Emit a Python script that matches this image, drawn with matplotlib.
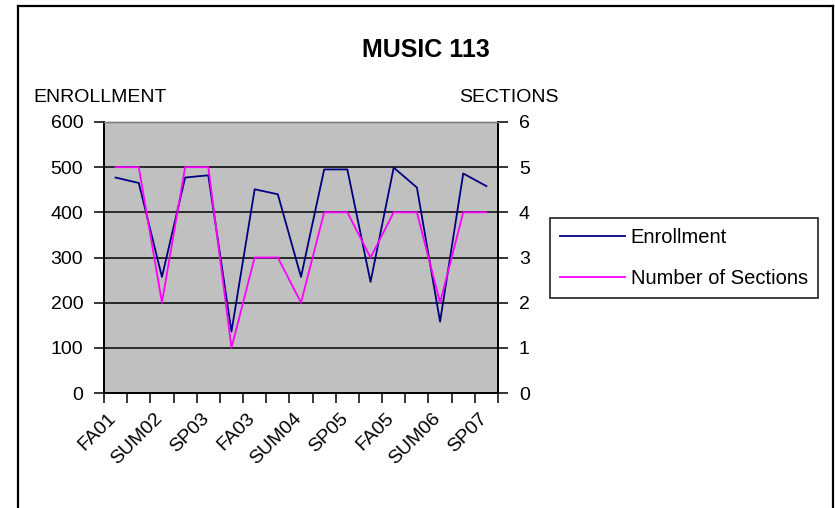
import matplotlib
matplotlib.use("Agg")
import matplotlib.pyplot as plt
import matplotlib.transforms as mtransforms
from matplotlib.lines import Line2D

# ============================================
# DATA
# ============================================
terms = ['FA01', 'SP02', 'SUM02', 'FA02', 'SP03', 'SUM03', 'FA03', 'SP04', 'SUM04',
         'FA04', 'SP05', 'SUM05', 'FA05', 'SP06', 'SUM06', 'FA06', 'SP07']
enrollment = [477, 465, 257, 477, 482, 136, 451, 440, 257,
              495, 495, 246, 499, 455, 158, 486, 458]
sections = [5, 5, 2, 5, 5, 1, 3, 3, 2, 4, 4, 3, 4, 4, 2, 4, 4]

# ============================================
# CONFIGURATION
# ============================================
W, H = 835, 508
FONT = 'Liberation Sans'
FS = 14
plt.rcParams['font.family'] = [FONT, 'DejaVu Sans']


def fx(px):
    return px / W


def fy(py):
    return 1 - py / H


fig = plt.figure(figsize=(W / 100, H / 100), dpi=100)
fig.patch.set_facecolor('white')

# plot area in pixel coordinates
left, right, top, bottom = 104, 498, 122, 393
ax = fig.add_axes([fx(left), fy(bottom), fx(right - left), (bottom - top) / H])
ax.set_facecolor('#c0c0c0')

x = list(range(len(terms)))
l1, = ax.plot(x, enrollment, color='#000080', linewidth=1.3, label='Enrollment', zorder=3)

ax.set_xlim(-0.5, len(terms) - 0.5)
ax.set_ylim(0, 600)
ax.set_yticks(range(0, 601, 100))
ax.yaxis.grid(True, color='black', linewidth=1.1)
ax.set_axisbelow(True)

# x ticks: marks between categories, labels on every second category
ax.set_xticks([i - 0.5 for i in range(len(terms) + 1)], minor=True)
ax.set_xticks(x[::2])
ax.set_xticklabels(terms[::2], rotation=45, ha='right', va='top', rotation_mode='anchor')
ax.tick_params(axis='x', which='major', length=0, pad=12, labelsize=FS)
ax.tick_params(axis='x', which='minor', length=7, width=1.1, direction='out')
ax.tick_params(axis='y', length=7, width=1.1, pad=8, labelsize=FS)
shift = mtransforms.ScaledTranslation(-8 / 100, 0, fig.dpi_scale_trans)
for lab in ax.get_xticklabels():
    lab.set_transform(lab.get_transform() + shift)

ax2 = ax.twinx()
l2, = ax2.plot(x, sections, color='#ff00ff', linewidth=1.3, label='Number of Sections', zorder=3)
ax2.set_ylim(0, 6)
ax2.set_yticks(range(0, 7))
ax2.tick_params(axis='y', length=7, width=1.1, pad=8, labelsize=FS)

for a in (ax, ax2):
    a.spines['top'].set_color('#808080')
    a.spines['top'].set_linewidth(1.0)
    for s in ('left', 'right', 'bottom'):
        a.spines[s].set_color('black')
        a.spines[s].set_linewidth(1.3)

# titles
fig.text(fx(426), fy(57), 'MUSIC 113', ha='center', va='baseline',
         fontsize=18, fontweight='bold')
fig.text(fx(33), fy(102), 'ENROLLMENT', ha='left', va='baseline', fontsize=FS)
fig.text(fx(459), fy(102), 'SECTIONS', ha='left', va='baseline', fontsize=FS)

# legend
leg = fig.legend(handles=[l1, l2], loc='center',
                 bbox_to_anchor=(fx(684), fy(258)), fontsize=14.5,
                 frameon=True, fancybox=False, handlelength=3.2,
                 handletextpad=0.3, labelspacing=1.1, borderpad=0.5,
                 borderaxespad=0)
leg.get_frame().set_edgecolor('black')
leg.get_frame().set_linewidth(1.3)

# chart border (bottom edge lies outside the image)
for xs, ys in [([fx(18), fx(18)], [fy(6), -0.1]),
               ([fx(18), fx(833)], [fy(6), fy(6)]),
               ([fx(833), fx(833)], [fy(6), -0.1])]:
    fig.add_artist(Line2D(xs, ys, color='black', linewidth=1.6,
                          transform=fig.transFigure))

plt.savefig('out.png', dpi=100, facecolor='white')
plt.close()
